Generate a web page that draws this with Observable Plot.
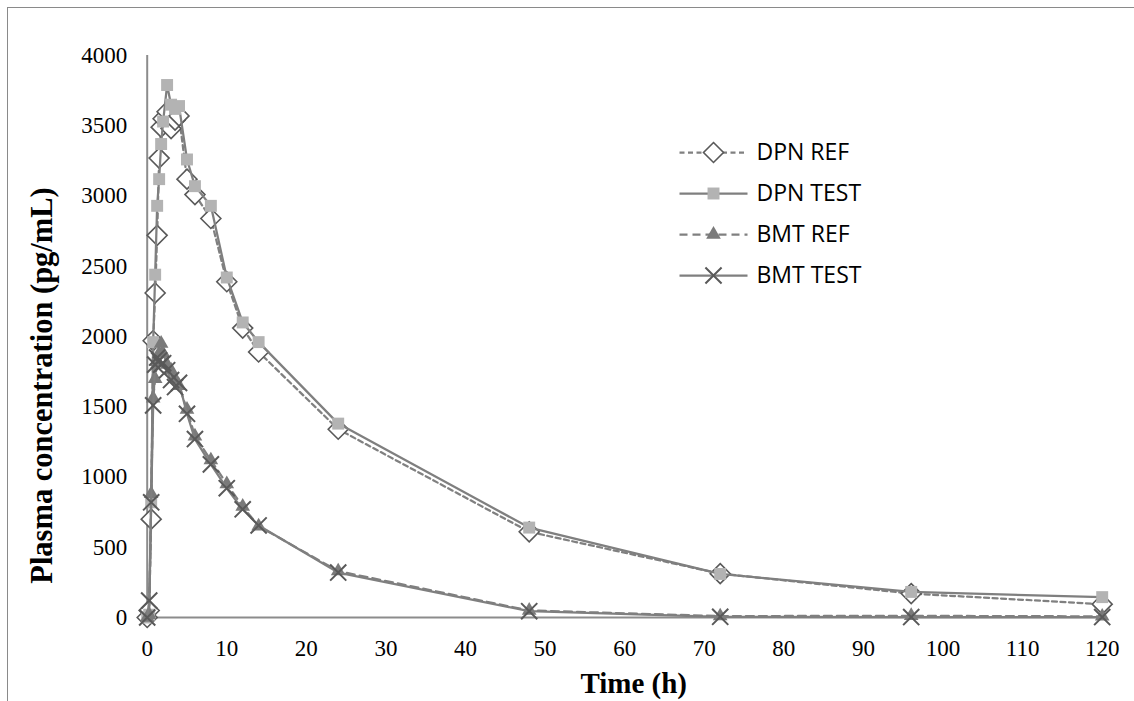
<!DOCTYPE html>
<html>
<head>
<meta charset="utf-8">
<script src="https://cdn.jsdelivr.net/npm/d3@7"></script>
<script src="https://cdn.jsdelivr.net/npm/@observablehq/plot@0.6"></script>
<style>
  html, body { margin: 0; padding: 0; background: #fff; }
  #wrap { position: relative; width: 1134px; height: 701px; overflow: hidden; background: #fff; }
  #border { position: absolute; left: 7px; top: 7px; right: -10px; bottom: -10px;
            border-left: 1.5px solid #8a8a8a; border-top: 1.5px solid #8a8a8a; }
  #chart { position: absolute; left: 0; top: 0; }
  #legend { position: absolute; left: 679px; top: 132px; }
</style>
</head>
<body>
<div id="wrap">
  <div id="border"></div>
  <div id="chart"></div>
  <div id="legend"></div>
</div>
<script>
// ---- data ----
const times = [0, 0.25, 0.5, 0.75, 1, 1.25, 1.5, 1.75, 2, 2.5, 3, 3.5, 4, 5, 6, 8, 10, 12, 14, 24, 48, 72, 96, 120];
const seriesNames = ["DPN REF", "DPN TEST", "BMT REF", "BMT TEST"];
const dpnRef  = [0, 50, 700, 1970, 2310, 2720, 3270, 3490, 3550, 3600, 3480, 3540, 3570, 3120, 3010, 2840, 2390, 2060, 1890, 1340, 610, 312, 170, 95];
const dpnTest = [0, 20, 820, 1960, 2440, 2930, 3120, 3370, 3530, 3790, 3650, 3620, 3640, 3260, 3070, 2930, 2420, 2100, 1960, 1380, 640, 310, 182, 145];
const bmtRef  = [0, 20, 880, 1560, 1700, 1820, 1880, 1950, 1880, 1800, 1760, 1700, 1650, 1480, 1290, 1120, 950, 790, 650, 330, 50, 10, 12, 8];
const bmtTest = [0, 120, 820, 1510, 1800, 1850, 1830, 1800, 1810, 1760, 1690, 1640, 1670, 1450, 1270, 1090, 920, 770, 655, 320, 45, 5, 3, 3];
const xTicks = [0, 10, 20, 30, 40, 50, 60, 70, 80, 90, 100, 110, 120];
const yTicks = [0, 500, 1000, 1500, 2000, 2500, 3000, 3500, 4000];

const allValues = [dpnRef, dpnTest, bmtRef, bmtTest];
const rows = seriesNames.flatMap((name, i) =>
  times.map((t, j) => ({series: name, t, v: allValues[i][j]})));

// ---- styles ----
const styles = {
  "DPN REF":  {line: {stroke: "#808080", strokeWidth: 2.25, strokeDasharray: "5,3.5"},
               dot: {symbol: "diamond2", r: 9, fill: "white", stroke: "#595959", strokeWidth: 1.6}},
  "DPN TEST": {line: {stroke: "#7f7f7f", strokeWidth: 2.25},
               dot: {symbol: "square2", r: 7.6, fill: "#b3b3b3", stroke: "none"}},
  "BMT REF":  {line: {stroke: "#808080", strokeWidth: 2.25, strokeDasharray: "8,5"},
               dot: {symbol: "triangle2", r: 7, fill: "#7a7a7a", stroke: "none"}},
  "BMT TEST": {line: {stroke: "#7f7f7f", strokeWidth: 2.25},
               dot: {symbol: "times", r: 7.4, fill: "none", stroke: "#595959", strokeWidth: 2}}
};

const seriesMarks = seriesNames.flatMap(name => {
  const d = rows.filter(r => r.series === name);
  return [
    Plot.line(d, {x: "t", y: "v", ...styles[name].line}),
    Plot.dot(d, {x: "t", y: "v", ...styles[name].dot})
  ];
});

const chart = Plot.plot({
  width: 1134,
  height: 701,
  marginLeft: 146.7,
  marginRight: 32.3,
  marginTop: 55,
  marginBottom: 84,
  x: {domain: [0, 120]},
  y: {domain: [0, 4000]},
  style: {fontFamily: "'Liberation Serif', 'Times New Roman', serif", fontSize: "23px", background: "transparent", color: "#000"},
  marks: [
    Plot.axisY({ticks: yTicks, tickSize: 0, tickPadding: 20, tickFormat: d => String(d), label: null, fontSize: 23}),
    Plot.axisX({ticks: xTicks, tickSize: 0, tickPadding: 22, tickFormat: d => String(d), label: null, fontSize: 23}),
    Plot.ruleX([0], {stroke: "#8c8c8c", strokeWidth: 2}),
    Plot.ruleY([0], {stroke: "#8c8c8c", strokeWidth: 2}),
    ...seriesMarks,
    Plot.text(["Time (h)"], {text: d => d, frameAnchor: "bottom", textAnchor: "middle", lineAnchor: "middle",
      dy: 66, dx: 9, fontSize: 29, fontWeight: "bold", fill: "#000"}),
    Plot.text(["Plasma concentration (pg/mL)"], {text: d => d, frameAnchor: "left", textAnchor: "middle", lineAnchor: "middle",
      dx: -105, dy: 49, rotate: -90, fontSize: 30.5, fontWeight: "bold", fill: "#000"})
  ]
});
document.getElementById("chart").appendChild(chart);

// ---- legend ----
const legendMarks = seriesNames.flatMap(name => [
  Plot.link([name], {x1: 0, x2: 1, y1: d => d, y2: d => d, ...styles[name].line}),
  Plot.dot([name], {x: 0.5, y: d => d, ...styles[name].dot})
]);
const legend = Plot.plot({
  width: 240,
  height: 170,
  marginLeft: 0, marginRight: 0, marginTop: 0, marginBottom: 0,
  x: {domain: [0, 1], range: [0, 68], axis: null},
  y: {type: "point", domain: seriesNames, range: [20, 143], padding: 0, axis: null},
  style: {background: "transparent"},
  marks: [
    ...legendMarks,
    Plot.text(seriesNames, {x: 1, y: d => d, text: d => d, dx: 9, textAnchor: "start",
      fontFamily: "'Open Sans', 'Noto Sans', sans-serif", fontSize: 23, fill: "#000"})
  ]
});
document.getElementById("legend").appendChild(legend);
</script>
</body>
</html>
